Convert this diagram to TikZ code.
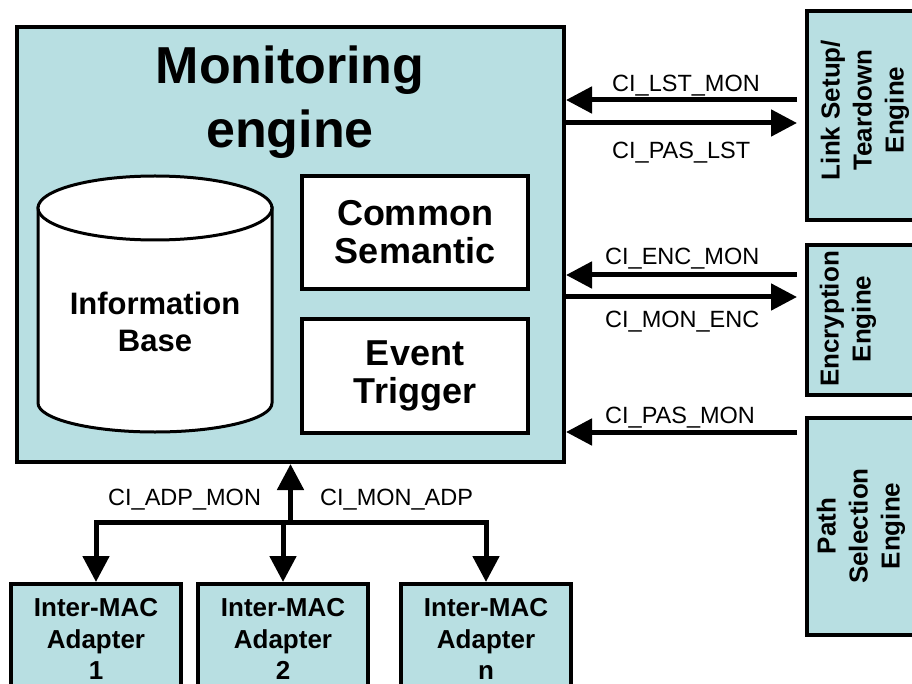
\documentclass[tikz,border=0pt]{standalone}
\usepackage{fontspec}
\setmainfont{Liberation Sans}
\usetikzlibrary{arrows.meta}
\definecolor{panel}{RGB}{184,223,226}
\begin{document}
\begin{tikzpicture}[x=1pt,y=-1pt,
  box/.style={draw, line width=4pt, fill=panel, inner sep=0pt},
  wbox/.style={draw, line width=3.5pt, fill=white, inner sep=0pt, align=center,
    font=\fontsize{36}{38}\selectfont\bfseries},
  eng/.style={box, minimum width=118pt},
  engtxt/.style={rotate=90, align=center, inner sep=0pt,
    font=\fontsize{26}{32}\selectfont\bfseries},
  adp/.style={box, minimum width=170pt, minimum height=110pt, align=center,
    font=\fontsize{26}{31.5}\selectfont\bfseries},
  conn/.style={line width=5pt, -{Triangle[length=26pt,width=26pt]}, line join=miter},
  sig/.style={inner sep=0pt, anchor=base west, font=\fontsize{23.5}{28}\selectfont},
]
\useasboundingbox (0,0) rectangle (912,684);
\clip (0,0) rectangle (912,684);

% monitoring engine frame and title
\node[box, minimum width=547pt, minimum height=435pt] (mon) at (290.5,244.5) {};
\node[inner sep=0pt, align=center, font=\fontsize{52}{64}\selectfont\bfseries]
  (title) at (290,102) {Monitoring\\engine};

% information base cylinder
\draw[line width=3pt, fill=white] (38,208) -- (38,403)
  arc[start angle=180, end angle=360, x radius=117pt, y radius=29pt]
  -- (272,208) -- cycle;
\draw[line width=3pt, fill=white] (155,208) ellipse[x radius=117pt, y radius=32pt];
\node[inner sep=0pt, align=center, font=\fontsize{31}{37}\selectfont\bfseries]
  (info) at (155,322) {Information\\Base};

% inner blocks
\node[wbox, minimum width=226pt, minimum height=113pt] (sem) at (415,232.5) {Common\\Semantic};
\node[wbox, minimum width=226pt, minimum height=114pt] (evt) at (415,376) {Event\\Trigger};

% engines on the right
\node[eng, minimum height=209pt] (lst) at (866,115.5) {};
\node[eng, minimum height=150pt] (enc) at (866,320) {};
\node[eng, minimum height=217pt] (pas) at (866,526.5) {};
\node[engtxt] (lsttxt) at (865,110) {Link Setup/\\Teardown\\Engine};
\node[engtxt] (enctxt) at (848,319) {Encryption\\Engine};
\node[engtxt] (pastxt) at (861,526) {Path\\Selection\\Engine};

% signals between the monitoring engine and the engines
\coordinate (a1) at ([xshift=-8pt,yshift=15.5pt]lst.west);
\coordinate (a2) at ([xshift=-8pt,yshift=-7.5pt]lst.west);
\coordinate (a3) at ([xshift=-8pt,yshift=45pt]enc.west);
\coordinate (a4) at ([xshift=-8pt,yshift=23pt]enc.west);
\coordinate (a5) at ([xshift=-8pt,yshift=94.5pt]pas.west);
\draw[conn] (a1) -- (a1 -| mon.east);
\draw[conn] (a2 -| mon.east) -- (a2);
\draw[conn] (a3) -- (a3 -| mon.east);
\draw[conn] (a4 -| mon.east) -- (a4);
\draw[conn] (a5) -- (a5 -| mon.east);
\node[sig] (l1) at (612,92) {CI\_LST\_MON};
\node[sig] (l2) at (612,159) {CI\_PAS\_LST};
\node[sig] (l3) at (605,265) {CI\_ENC\_MON};
\node[sig] (l4) at (605,327) {CI\_MON\_ENC};
\node[sig] (l5) at (605,423) {CI\_PAS\_MON};

% adapters below
\node[adp] (ad1) at (96,639) {Inter-MAC\\Adapter\\1};
\node[adp] (ad2) at (283,639) {Inter-MAC\\Adapter\\2};
\node[adp] (adn) at (486,639) {Inter-MAC\\Adapter\\n};

\coordinate (j) at ([yshift=-58pt]mon.south);
\draw[conn] (j) -- (mon.south);
\draw[conn] (j) -| (ad1.north);
\draw[conn] (j) -| (ad2.north);
\draw[conn] (j) -| (adn.north);
\node[sig] (l6) at (108,505) {CI\_ADP\_MON};
\node[sig] (l7) at (320,505) {CI\_MON\_ADP};
\end{tikzpicture}
\end{document}
